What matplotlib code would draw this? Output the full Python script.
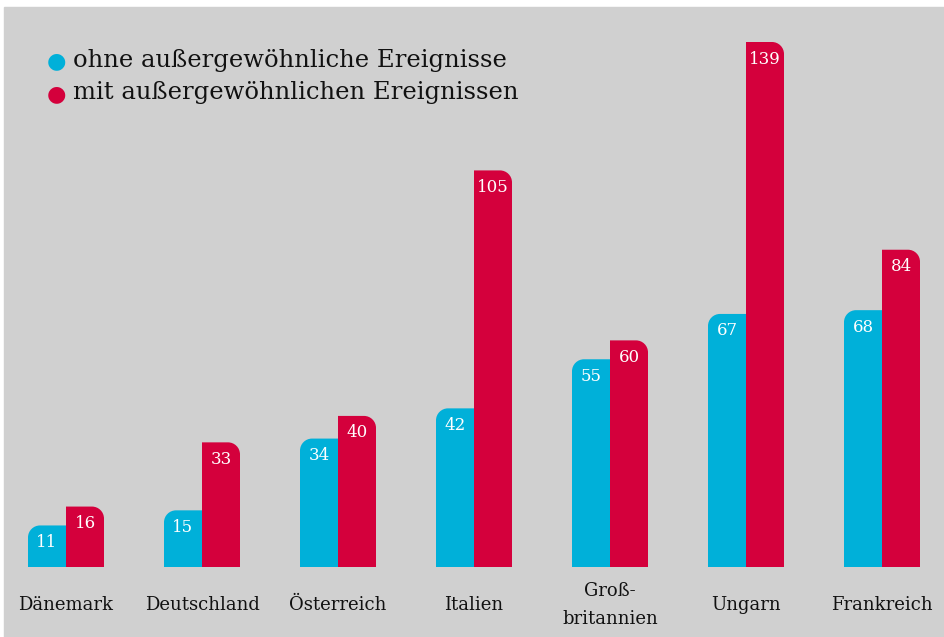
import numpy as np
import matplotlib
matplotlib.use("Agg")
import matplotlib.pyplot as plt
from matplotlib.path import Path
from matplotlib.patches import PathPatch, Rectangle

countries = ["Dänemark", "Deutschland", "Österreich", "Italien",
             "Groß-\nbritannien", "Ungarn", "Frankreich"]
ohne = [11, 15, 34, 42, 55, 67, 68]
mit = [16, 33, 40, 105, 60, 139, 84]
legend_labels = ["ohne außergewöhnliche Ereignisse",
                 "mit außergewöhnlichen Ereignissen"]

blue = "#00b0d9"
red = "#d4003c"
grey = "#d0d0d0"
font = ["DejaVu Serif"]

W, H = 944, 637
fig = plt.figure(figsize=(W / 100, H / 100), dpi=100)
fig.patch.set_facecolor("white")

# grey panel (pixel coordinates from top-left)
fig.patches.append(Rectangle((4 / W, 0), 1 - 4 / W, 1 - 7 / H,
                             transform=fig.transFigure, color=grey, zorder=-10))

ax = fig.add_axes([0, 0, 1, 1])
ax.set_facecolor("none")
ax.axis("off")

# mapping: group i centred at pixel 66 + 136*i, baseline at pixel y 567
px_x = 136.0
px_y = 525.0 / 139
ax.set_xlim(-66 / px_x, (W - 66) / px_x)
ax.set_ylim(-(H - 567) / px_y, 567 / px_y)

bw = 38 / px_x
rx, ry = 12 / px_x, 12 / px_y
k = 0.5523


def bar(x0, h, color, corner):
    x1 = x0 + bw
    if corner == "left":
        verts = [(x0, 0), (x1, 0), (x1, h), (x0 + rx, h),
                 (x0 + rx * (1 - k), h), (x0, h - ry * (1 - k)), (x0, h - ry),
                 (x0, 0)]
        codes = [Path.MOVETO, Path.LINETO, Path.LINETO, Path.LINETO,
                 Path.CURVE4, Path.CURVE4, Path.CURVE4, Path.CLOSEPOLY]
    else:
        verts = [(x0, 0), (x1, 0), (x1, h - ry),
                 (x1, h - ry * (1 - k)), (x1 - rx * (1 - k), h), (x1 - rx, h),
                 (x0, h), (x0, 0)]
        codes = [Path.MOVETO, Path.LINETO, Path.LINETO,
                 Path.CURVE4, Path.CURVE4, Path.CURVE4, Path.LINETO,
                 Path.CLOSEPOLY]
    ax.add_patch(PathPatch(Path(verts, codes), facecolor=color,
                           edgecolor="none", zorder=2))


for i, (a, b) in enumerate(zip(ohne, mit)):
    bar(i - bw, a, blue, "left")
    bar(i, b, red, "right")
    ax.text(i - bw / 2, a - 17 / px_y, str(a), color="white", ha="center",
            va="center", fontsize=12, family=font, zorder=3)
    ax.text(i + bw / 2, b - 17 / px_y, str(b), color="white", ha="center",
            va="center", fontsize=12, family=font, zorder=3)
    ax.text(i, -(605 - 567) / px_y, countries[i], ha="center", va="center",
            fontsize=13, family=font, color="#111111", linespacing=1.75)

# legend
for j, (lab, col) in enumerate(zip(legend_labels, [blue, red])):
    ypix = 61 + 33 * j
    fig.text(56 / W, 1 - ypix / H, "\u25CF", color=col, fontsize=16,
             ha="center", va="center", family=["DejaVu Sans"])
    fig.text(73 / W, 1 - (ypix - 1) / H, lab, color="#111111", fontsize=17.5,
             ha="left", va="center", family=font)

fig.savefig("out.png", dpi=100)
